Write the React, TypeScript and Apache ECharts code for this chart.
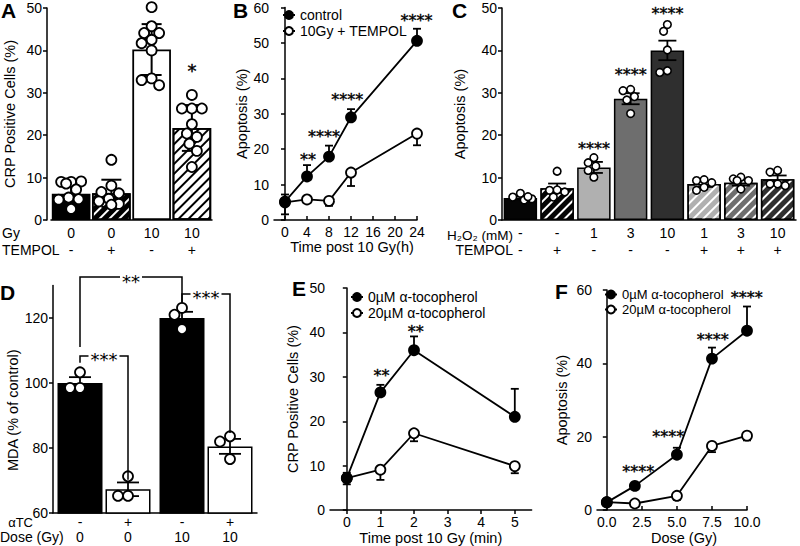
import React, { useEffect, useRef } from "react";
import * as echarts from "echarts";

const FONT = "'Liberation Sans', Arial, Helvetica, sans-serif";
const STAR = "'DejaVu Sans', sans-serif";

// ---------------- Panel A ----------------
const A_gy = ["0", "0", "10", "10"];
const A_tempol = ["-", "+", "-", "+"];
const A_mean = [6.2, 6.3, 40.2, 21.7];
const A_sd = [2.3, 3.2, 6.0, 5.4];
const A_pts = [
  [9.0, 9.0, 9.1, 8.6, 7.2, 5.3, 4.9, 4.8, 2.6],
  [14.2, 8.1, 6.6, 6.3, 5.0, 4.4, 3.8, 3.6],
  [50.2, 45.7, 44.1, 44.1, 42.5, 41.7, 40.0, 33.4, 33.0, 31.8],
  [29.5, 26.3, 26.3, 26.3, 22.6, 20.4, 19.6, 18.0, 16.3, 12.5],
];
const A_sig: [number, number, string][] = [[3, 36.2, "*"]];
const A_fill = ["#000", "#000", "#fff", "#fff"];
const A_hatch: (string | null)[] = [null, "#fff", null, "#000"];

// ---------------- Panel B ----------------
const B_time = [0, 4, 8, 12, 24];
const B_ctrl = [5.2, 12.3, 17.9, 29.0, 50.6];
const B_ctrlErr = [2.0, 3.2, 3.1, 2.3, 3.4];
const B_temp = [5.0, 5.8, 5.4, 13.4, 24.4];
const B_tempErr = [3.4, 0.8, 1.4, 3.8, 3.3];
const B_ticks = [0, 4, 8, 12, 16, 20, 24];
const B_sig: [number, number, string][] = [
  [4.2, 18.1, "**"],
  [7.1, 24.7, "****"],
  [11.3, 35.1, "****"],
  [23.9, 57.3, "****"],
];

// ---------------- Panel C ----------------
const C_h2o2 = ["-", "-", "1", "3", "10", "1", "3", "10"];
const C_tempol = ["-", "+", "-", "-", "-", "+", "+", "+"];
const C_mean = [5.2, 7.5, 12.4, 28.6, 40.0, 8.5, 8.8, 9.6];
const C_sem = [0.3, 1.1, 1.3, 1.3, 2.3, 0.7, 0.7, 0.9];
const C_pts = [
  [6.3, 5.4, 4.7, 5.0, 5.5],
  [11.5, 7.1, 7.0, 6.6, 5.4],
  [14.7, 13.5, 12.7, 11.7, 10.1],
  [30.8, 30.5, 29.1, 28.3, 25.1],
  [46.1, 44.5, 40.1, 35.2, 34.8],
  [9.5, 9.3, 8.8, 7.7, 7.0],
  [10.1, 9.7, 9.3, 9.3, 7.3],
  [11.7, 11.3, 8.5, 8.5, 8.1],
];
const C_sig: [number, number, string][] = [
  [2, 17.6, "****"],
  [3, 35.2, "****"],
  [4, 49.6, "****"],
];
const C_fill = ["#050505", "#050505", "#b0b0b0", "#6e6e6e", "#2f2f2f", "#b0b0b0", "#6e6e6e", "#2f2f2f"];
const C_hatch: (string | null)[] = [null, "#fff", null, null, null, "#fff", "#fff", "#fff"];

// ---------------- Panel D ----------------
const D_dose = ["0", "10"];
const D_barAtc = ["-", "+", "-", "+"];
const D_barDose = ["0", "0", "10", "10"];
const D_mean = [100, 67.3, 120, 80.5]; // bar order: 0Gy-, 0Gy+, 10Gy-, 10Gy+
const D_sem = [1.8, 2.1, 1.9, 2.3];
const D_pts = [
  [103.3, 98.5, 98.5],
  [71.3, 65.3, 65.3],
  [123.1, 121.0, 116.6],
  [83.6, 82.0, 76.6],
];
// [fromBar, toBar, yTop, yLeftEnd, yRightEnd, label]
const D_brackets: [number, number, number, number, number, string][] = [
  [0, 2, 132.6, 111.1, 124.6, "**"],
  [0, 1, 108.3, 106.2, 70.2, "***"],
  [2, 3, 127.4, 124.9, 84.6, "***"],
];
const D_fill = ["#000", "#fff"];

// ---------------- Panel E ----------------
const E_time = [0, 1, 2, 5];
const E_ctrl = [7.2, 26.5, 36.0, 21.0];
const E_ctrlErr = [1.2, 1.7, 3.1, 6.3];
const E_toc = [7.2, 9.1, 17.3, 9.9];
const E_tocErr = [1.4, 2.3, 1.8, 1.6];
const E_ticks = [0, 1, 2, 3, 4, 5];
const E_sig: [number, number, string][] = [
  [1.03, 31.1, "**"],
  [2.05, 41.1, "**"],
];

// ---------------- Panel F ----------------
const F_dose = [0, 2, 5, 7.5, 10];
const F_ctrl = [2.1, 6.6, 15.1, 41.3, 48.9];
const F_ctrlErr = [0.5, 0.5, 1.9, 3.0, 6.6];
const F_toc = [2.2, 1.8, 3.9, 17.5, 20.3];
const F_tocErr = [0.3, 0.3, 1.1, 1.7, 1.3];
const F_ticks = [0, 2.5, 5, 7.5, 10];
const F_sig: [number, number, string][] = [
  [2.24, 11.5, "****"],
  [4.38, 20.9, "****"],
  [7.55, 47.4, "****"],
  [9.98, 58.9, "****"],
];

const NAME_CTRL_TOC = "0µM α-tocopherol";
const NAME_TOC = "20µM α-tocopherol";

// ---------------- layout constants ----------------
const D_LEFT = 53;
const D_WIDTH = 204;
const D_BARW = 45;
const D_GAPPX = 3;
const D_OFF = (D_BARW + D_GAPPX) / 2;
const D_cat = [0, 0, 1, 1];
const D_offs = [-D_OFF, D_OFF, -D_OFF, D_OFF];

const STAR_STROKE = { stroke: "#000", lineWidth: 0.4 };

function hatch(color: string) {
  return {
    symbol: "rect",
    symbolSize: 1,
    dashArrayX: [1, 0],
    dashArrayY: [1.8, 4.6],
    rotation: -Math.PI / 4,
    color,
  };
}

function barStyle(fill: string, h: string | null, bw = 1.5) {
  const s: any = { color: fill, borderColor: "#000", borderWidth: bw };
  if (h) s.decal = hatch(h);
  return s;
}

function swarm(ys: number[], r: number, maxOff: number): number[] {
  const placed: [number, number][] = [];
  const cands: number[] = [0];
  const step = r / 2;
  for (let k = 1; k * step <= maxOff + 1e-6; k++) cands.push(-k * step, k * step);
  return ys.map((y) => {
    let best = 0;
    let bestD = -1;
    for (const c of cands) {
      let d = Infinity;
      for (const [px, py] of placed) d = Math.min(d, Math.hypot(px - c, py - y));
      if (d >= 2 * r) {
        best = c;
        bestD = d;
        break;
      }
      if (d > bestD) {
        bestD = d;
        best = c;
      }
    }
    placed.push([best, y]);
    return best;
  });
}

const BLACK_ITEM = { color: "#000" };

function errSeries(
  ax: number,
  xs: number[],
  means: number[],
  errs: number[],
  dir: "up" | "down" | "both",
  cap: number,
  lw: number,
  z: number,
  offs?: number[]
) {
  return {
    type: "custom",
    xAxisIndex: ax,
    yAxisIndex: ax,
    z,
    silent: true,
    itemStyle: BLACK_ITEM,
    data: xs.map((x, i) => [x, means[i], errs[i]]),
    renderItem: (p: any, api: any) => {
      const off = offs ? offs[p.dataIndex] : 0;
      const x0 = api.value(0);
      const m = api.value(1);
      const e = api.value(2);
      const hi = api.coord([x0, dir === "down" ? m : m + e]);
      const lo = api.coord([x0, dir === "up" ? m : m - e]);
      const x = hi[0] + off;
      const st = { stroke: "#000", lineWidth: lw };
      const ch: any[] = [{ type: "line", shape: { x1: x, y1: hi[1], x2: x, y2: lo[1] }, style: st }];
      if (dir !== "down") ch.push({ type: "line", shape: { x1: x - cap, y1: hi[1], x2: x + cap, y2: hi[1] }, style: st });
      if (dir !== "up") ch.push({ type: "line", shape: { x1: x - cap, y1: lo[1], x2: x + cap, y2: lo[1] }, style: st });
      return { type: "group", children: ch };
    },
  };
}

function ptsSeries(ax: number, xs: number[], groups: number[][], r: number, lw: number, maxOff: number, offs?: number[]) {
  const data: number[][] = [];
  groups.forEach((g, gi) => g.forEach((v, k) => data.push([xs[gi], v, gi, k])));
  return {
    type: "custom",
    xAxisIndex: ax,
    yAxisIndex: ax,
    z: 6,
    silent: true,
    itemStyle: BLACK_ITEM,
    data,
    renderItem: (p: any, api: any) => {
      const x0 = api.value(0);
      const gi = api.value(2);
      const k = api.value(3);
      const ys = groups[gi].map((v) => api.coord([x0, v])[1]);
      const jit = swarm(ys, r, maxOff);
      const c = api.coord([x0, api.value(1)]);
      const off = offs ? offs[gi] : 0;
      return {
        type: "circle",
        shape: { cx: c[0] + off + jit[k], cy: c[1], r },
        style: { fill: "#fff", stroke: "#000", lineWidth: lw },
      };
    },
  };
}

function starText(text: string, x: number, y: number, fs: number, extra: any = {}) {
  return {
    type: "text",
    x,
    y: y + 0.22 * fs,
    style: {
      text,
      fontFamily: STAR,
      fontSize: fs,
      fill: "#000",
      align: "center",
      verticalAlign: "middle",
      ...extra,
    },
  };
}

function sigSeries(ax: number, items: [number, number, string][], fs: number) {
  return {
    type: "custom",
    xAxisIndex: ax,
    yAxisIndex: ax,
    z: 7,
    silent: true,
    itemStyle: BLACK_ITEM,
    data: items.map((d) => [d[0], d[1]]),
    renderItem: (p: any, api: any) => {
      const c = api.coord([api.value(0), api.value(1)]);
      return { type: "group", children: [starText(items[p.dataIndex][2], c[0], c[1], fs, STAR_STROKE)] };
    },
  };
}

function bracketSeries(ax: number) {
  return {
    type: "custom",
    xAxisIndex: ax,
    yAxisIndex: ax,
    z: 8,
    silent: true,
    itemStyle: BLACK_ITEM,
    data: D_brackets.map((b) => [D_cat[b[0]], b[2]]),
    renderItem: (p: any, api: any) => {
      const [b1, b2, yT, yL, yR, t] = D_brackets[p.dataIndex];
      const x1 = api.coord([D_cat[b1], yT])[0] + D_offs[b1];
      const x2 = api.coord([D_cat[b2], yT])[0] + D_offs[b2];
      const pyT = api.coord([D_cat[b1], yT])[1];
      const pyL = api.coord([D_cat[b1], yL])[1];
      const pyR = api.coord([D_cat[b2], yR])[1];
      return {
        type: "group",
        children: [
          {
            type: "polyline",
            shape: { points: [[x1, pyL], [x1, pyT], [x2, pyT], [x2, pyR]] },
            style: { stroke: "#000", lineWidth: 1.5, fill: null },
          },
          starText(t, (x1 + x2) / 2, pyT, 18, { backgroundColor: "#fff", padding: [0, 2] }),
        ],
      };
    },
  };
}

const axLine = { show: true, lineStyle: { color: "#000", width: 1.5 } };
const lblStyle = { fontFamily: FONT, fontSize: 14, color: "#000" };

function yAx(grid: number, min: number, max: number, interval: number | null, name: string, nameGap: number, extra: any = {}) {
  const a: any = {
    type: "value",
    gridIndex: grid,
    min,
    max,
    name,
    nameLocation: "middle",
    nameGap,
    nameRotate: 90,
    nameTextStyle: { fontFamily: FONT, fontSize: 14.5, color: "#000" },
    axisLine: axLine,
    axisTick: { show: true, length: 4, lineStyle: { color: "#000", width: 1.5 } },
    axisLabel: { ...lblStyle, margin: 5 },
    splitLine: { show: false },
    ...extra,
  };
  if (interval != null) a.interval = interval;
  return a;
}

function catAx(grid: number, data: string[]) {
  return {
    type: "category",
    gridIndex: grid,
    data,
    axisLine: axLine,
    axisTick: { show: false },
    axisLabel: { ...lblStyle, interval: 0, lineHeight: 17, margin: 4 },
    splitLine: { show: false },
  };
}

function valXAx(grid: number, min: number, max: number, ticks: number[], name: string, nameGap: number, inside: boolean, fmt?: (v: number) => string, namePadLeft = 0) {
  return {
    type: "value",
    gridIndex: grid,
    min,
    max,
    name,
    nameLocation: "middle",
    nameGap,
    nameTextStyle: { fontFamily: FONT, fontSize: 14.5, color: "#000", padding: [0, 0, 0, namePadLeft] },
    axisLine: axLine,
    axisTick: { show: true, inside, length: 4, customValues: ticks, lineStyle: { color: "#000", width: 1.5 } },
    axisLabel: { ...lblStyle, margin: 5, customValues: ticks, formatter: fmt },
    splitLine: { show: false },
  };
}

function lineSeries(ax: number, name: string, xs: number[], ys: number[], filled: boolean, size: number) {
  return {
    type: "line",
    name,
    xAxisIndex: ax,
    yAxisIndex: ax,
    data: xs.map((x, i) => [x, ys[i]]),
    symbol: "circle",
    symbolSize: size,
    showAllSymbol: true,
    z: filled ? 5 : 4,
    silent: true,
    itemStyle: { color: filled ? "#000" : "#fff", borderColor: "#000", borderWidth: 1.8, opacity: 1 },
    lineStyle: { color: "#000", width: 1.8 },
  };
}

function txt(text: string, x: number, y: number, align: string, opts: any = {}) {
  return {
    type: "text",
    x,
    y,
    silent: true,
    style: {
      text,
      fontFamily: FONT,
      fontSize: 14,
      fill: "#000",
      align,
      verticalAlign: "middle",
      ...opts,
    },
  };
}

function letter(t: string, x: number, y: number) {
  return txt(t, x, y, "left", { fontSize: 21, fontWeight: "bold" });
}

function legendCfg(names: string[], left: number, top: number, fs: number) {
  return {
    data: names,
    left,
    top,
    orient: "vertical",
    itemWidth: 12,
    itemHeight: 10,
    itemGap: 2,
    selectedMode: false,
    padding: 0,
    textStyle: { fontFamily: FONT, fontSize: fs, color: "#000" },
  };
}

function buildOption(): any {
  const dBarX = D_cat.map((c, i) => D_LEFT + (D_WIDTH / 2) * (c + 0.5) + D_offs[i]);
  const graphics: any[] = [
    letter("A", 1, 10),
    letter("B", 233, 10),
    letter("C", 452, 10),
    letter("D", 0, 292),
    letter("E", 292, 288),
    letter("F", 555, 291),
    txt("Gy", 2, 233, "left"),
    txt("TEMPOL", 2, 250, "left"),
    txt("H₂O₂ (mM)", 513, 235, "right", { fontSize: 13.5 }),
    txt("TEMPOL", 513, 250, "right"),
    txt("αTC", 33, 522, "right", { fontSize: 13 }),
    txt("Dose (Gy)", 0, 537, "left"),
  ];
  dBarX.forEach((x, i) => {
    graphics.push(txt(D_barAtc[i], x, 522, "center"));
    graphics.push(txt(D_barDose[i], x, 537, "center"));
  });

  return {
    animation: false,
    backgroundColor: "#fff",
    textStyle: { fontFamily: FONT },
    grid: [
      { left: 51, top: 8, width: 161, height: 212 },
      { left: 274, top: 7.5, width: 143, height: 212.5 },
      { left: 502, top: 8, width: 294, height: 212 },
      { left: D_LEFT, top: 285.5, width: D_WIDTH, height: 227.5 },
      { left: 330, top: 288, width: 201.6, height: 225 },
      { left: 597, top: 290, width: 150, height: 223 },
    ],
    xAxis: [
      catAx(0, A_gy.map((g, i) => `${g}\n${A_tempol[i]}`)),
      valXAx(1, -2, 24, B_ticks, "Time post 10 Gy(h)", 19, true, undefined, 13),
      catAx(2, C_h2o2.map((g, i) => `${g}\n${C_tempol[i]}`)),
      { ...catAx(3, D_dose), axisLabel: { show: false } },
      valXAx(4, -0.5, 5.5, E_ticks, "Time post 10 Gy (min)", 18, false),
      valXAx(5, -0.7, 10, F_ticks, "Dose (Gy)", 18, true, (v: number) => v.toFixed(1), 24),
    ],
    yAxis: [
      yAx(0, 0, 50, 10, "CRP Positive Cells (%)", 30, { offset: 4 }),
      yAx(1, 0, 60, 10, "Apoptosis (%)", 25),
      yAx(2, 0, 50, 10, "Apoptosis (%)", 35),
      yAx(3, 60, 130, null, "MDA (% of control)", 33, {
        nameTextStyle: { fontFamily: FONT, fontSize: 14.5, color: "#000", padding: [0, 22, 0, 0] },
        axisLabel: { ...lblStyle, margin: 5, customValues: [60, 80, 100, 120] },
        axisTick: { show: true, length: 4, customValues: [60, 80, 100, 120], lineStyle: { color: "#000", width: 1.5 } },
      }),
      yAx(4, 0, 50, 10, "CRP Positive Cells (%)", 30),
      yAx(5, 0, 60, 20, "Apoptosis (%)", 28),
    ],
    legend: [
      legendCfg(["control", "10Gy + TEMPOL"], 282, 8, 14),
      legendCfg([NAME_CTRL_TOC, NAME_TOC], 350, 290, 14),
      legendCfg([NAME_CTRL_TOC, NAME_TOC], 604, 288, 13),
    ],
    graphic: graphics,
    series: [
      // ---- A ----
      {
        type: "bar",
        xAxisIndex: 0,
        yAxisIndex: 0,
        barCategoryGap: "4%",
        z: 2,
        silent: true,
        data: A_mean.map((v, i) => ({ value: v, itemStyle: barStyle(A_fill[i], A_hatch[i], 1.8) })),
      },
      errSeries(0, [0, 1, 2, 3], A_mean, A_sd, "both", 10, 2, 4),
      ptsSeries(0, [0, 1, 2, 3], A_pts, 5, 1.8, 14),
      sigSeries(0, A_sig, 18),
      // ---- B ----
      errSeries(1, B_time, B_temp, B_tempErr, "down", 4, 1.8, 3),
      errSeries(1, B_time, B_ctrl, B_ctrlErr, "up", 4, 1.8, 3),
      lineSeries(1, "10Gy + TEMPOL", B_time, B_temp, false, 10),
      lineSeries(1, "control", B_time, B_ctrl, true, 10),
      sigSeries(1, B_sig, 16),
      // ---- C ----
      {
        type: "bar",
        xAxisIndex: 2,
        yAxisIndex: 2,
        barCategoryGap: "9%",
        z: 2,
        silent: true,
        data: C_mean.map((v, i) => ({ value: v, itemStyle: barStyle(C_fill[i], C_hatch[i], 1.5) })),
      },
      errSeries(2, [0, 1, 2, 3, 4, 5, 6, 7], C_mean, C_sem, "both", 9, 1.8, 4),
      ptsSeries(2, [0, 1, 2, 3, 4, 5, 6, 7], C_pts, 3.8, 1.6, 12),
      sigSeries(2, C_sig, 16),
      // ---- D ----
      {
        type: "bar",
        name: "αTC -",
        xAxisIndex: 3,
        yAxisIndex: 3,
        barWidth: D_BARW,
        barGap: `${(D_GAPPX / D_BARW) * 100}%`,
        z: 2,
        silent: true,
        data: [D_mean[0], D_mean[2]],
        itemStyle: barStyle(D_fill[0], null, 1.5),
      },
      {
        type: "bar",
        name: "αTC +",
        xAxisIndex: 3,
        yAxisIndex: 3,
        barWidth: D_BARW,
        barGap: `${(D_GAPPX / D_BARW) * 100}%`,
        z: 2,
        silent: true,
        data: [D_mean[1], D_mean[3]],
        itemStyle: barStyle(D_fill[1], null, 1.5),
      },
      errSeries(3, D_cat, D_mean, D_sem, "both", 11, 1.8, 4, D_offs),
      ptsSeries(3, D_cat, D_pts, 5, 1.8, 12, D_offs),
      bracketSeries(3),
      // ---- E ----
      errSeries(4, E_time, E_toc, E_tocErr, "down", 4, 1.8, 3),
      errSeries(4, E_time, E_ctrl, E_ctrlErr, "up", 4, 1.8, 3),
      lineSeries(4, NAME_TOC, E_time, E_toc, false, 10),
      lineSeries(4, NAME_CTRL_TOC, E_time, E_ctrl, true, 10),
      sigSeries(4, E_sig, 16),
      // ---- F ----
      errSeries(5, F_dose, F_toc, F_tocErr, "down", 4, 1.8, 3),
      errSeries(5, F_dose, F_ctrl, F_ctrlErr, "up", 4, 1.8, 3),
      lineSeries(5, NAME_TOC, F_dose, F_toc, false, 10),
      lineSeries(5, NAME_CTRL_TOC, F_dose, F_ctrl, true, 10),
      sigSeries(5, F_sig, 16),
    ],
  };
}

export default function App() {
  const ref = useRef<HTMLDivElement>(null);
  useEffect(() => {
    document.body.style.margin = "0";
    const el = ref.current!;
    const chart = echarts.init(el, null, { renderer: "svg", width: 800, height: 546 });
    chart.setOption(buildOption());
    return () => chart.dispose();
  }, []);
  return <div ref={ref} style={{ width: 800, height: 546, position: "absolute", left: 0, top: 0 }} />;
}
